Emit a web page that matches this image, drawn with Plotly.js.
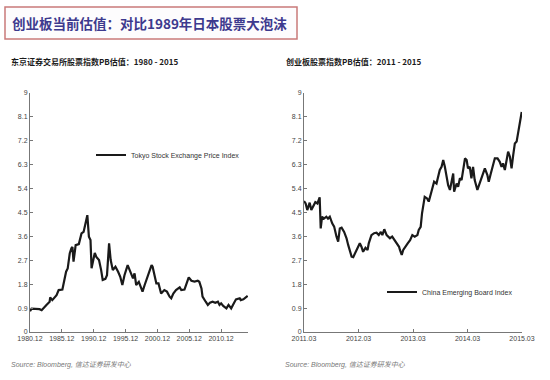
<!DOCTYPE html>
<html>
<head>
<meta charset="utf-8">
<script src="https://cdn.plot.ly/plotly-3.0.1.min.js"></script>
<style>html,body{margin:0;padding:0;background:#fff;}#chart{width:550px;height:380px;}</style>
</head>
<body>
<div id="chart"></div>
<script>
// ---- Data ----
const tokyoDates = ["1980-12","1981-03","1982-06","1982-10","1983-07","1984-01","1984-02","1984-06","1985-02","1985-06","1986-01","1986-05","1986-08","1986-11","1987-03","1987-06","1987-08","1987-10","1988-02","1988-08","1989-01","1989-05","1989-09","1989-12","1990-03","1990-06","1990-08","1990-12","1991-02","1991-05","1991-10","1992-02","1992-05","1992-10","1993-01","1993-05","1993-08","1993-12","1994-05","1994-10","1995-02","1995-06","1995-10","1996-04","1996-09","1997-02","1997-05","1997-08","1998-01","1998-08","1998-12","1999-04","1999-09","2000-01","2000-03","2000-07","2000-10","2001-02","2001-07","2002-01","2002-06","2002-11","2003-02","2003-06","2003-11","2004-06","2004-09","2005-03","2005-07","2005-11","2006-04","2006-10","2007-04","2007-07","2007-11","2008-01","2008-07","2008-11","2009-03","2009-08","2010-01","2010-06","2010-09","2010-12","2011-04","2011-10","2012-02","2012-07","2012-12","2013-04","2013-11","2014-01","2014-06","2014-11","2015-02"];
const tokyoPB = [0.78,0.88,0.86,0.82,1.02,1.14,1.30,1.20,1.39,1.58,1.60,1.96,2.27,2.39,2.97,3.15,3.20,2.65,3.27,3.31,3.71,3.77,4.22,4.40,3.59,3.46,2.40,2.83,2.98,2.83,2.71,2.33,1.96,2.00,2.14,3.34,2.71,2.33,2.46,2.27,2.08,1.77,2.14,2.52,2.27,2.02,2.21,1.77,1.89,1.52,1.77,2.02,2.27,2.52,2.46,2.14,1.83,1.83,1.45,1.58,1.52,1.33,1.27,1.45,1.58,1.68,1.58,1.60,1.83,2.06,1.93,1.90,1.93,1.89,1.64,1.33,1.14,1.02,1.10,1.14,1.10,1.14,1.02,1.08,0.98,0.89,1.02,0.89,1.08,1.23,1.27,1.20,1.23,1.30,1.36];

const chinextDates = ["2011-03-01","2011-03-12","2011-03-23","2011-04-08","2011-04-19","2011-05-07","2011-05-16","2011-05-30","2011-06-14","2011-06-21","2011-06-30","2011-07-13","2011-07-29","2011-08-09","2011-08-21","2011-09-06","2011-09-19","2011-10-05","2011-10-16","2011-10-27","2011-11-08","2011-11-25","2011-12-11","2011-12-22","2012-01-03","2012-01-14","2012-01-25","2012-02-05","2012-02-23","2012-03-09","2012-03-20","2012-03-31","2012-04-16","2012-04-30","2012-05-08","2012-05-26","2012-06-13","2012-06-29","2012-07-14","2012-07-28","2012-08-07","2012-08-20","2012-09-05","2012-09-16","2012-09-27","2012-10-12","2012-10-26","2012-11-11","2012-11-27","2012-12-03","2012-12-15","2012-12-25","2013-01-06","2013-01-24","2013-02-09","2013-02-24","2013-03-12","2013-03-30","2013-04-08","2013-04-21","2013-04-30","2013-05-13","2013-05-18","2013-06-03","2013-06-14","2013-07-02","2013-07-20","2013-08-05","2013-08-16","2013-08-27","2013-09-08","2013-09-19","2013-09-30","2013-10-11","2013-10-22","2013-11-03","2013-11-14","2013-11-25","2013-12-01","2013-12-18","2013-12-28","2014-01-09","2014-01-20","2014-02-01","2014-02-12","2014-02-23","2014-03-04","2014-03-16","2014-03-27","2014-04-07","2014-04-18","2014-05-06","2014-05-22","2014-06-07","2014-06-25","2014-07-12","2014-07-21","2014-08-04","2014-08-19","2014-08-31","2014-09-18","2014-10-03","2014-10-15","2014-10-25","2014-11-06","2014-11-18","2014-11-28","2014-12-10","2014-12-21","2015-01-01","2015-01-12","2015-01-24","2015-02-04","2015-02-15","2015-02-27"];
const chinextPB = [4.93,4.84,4.59,4.87,4.59,4.78,4.89,4.84,5.07,3.90,4.34,4.27,4.34,4.27,4.34,4.09,3.97,3.59,3.40,3.90,3.93,3.77,3.53,3.28,3.02,2.84,2.82,2.96,3.21,3.34,3.21,3.02,3.17,3.09,3.34,3.65,3.72,3.74,3.65,3.77,3.65,3.87,3.65,3.59,3.53,3.59,3.46,3.34,3.21,3.09,2.90,3.09,3.21,3.34,3.46,3.65,3.59,3.65,3.84,3.96,4.47,4.97,5.09,5.03,4.91,5.28,5.66,5.59,5.85,6.10,6.22,6.48,6.22,5.79,5.53,5.35,5.66,5.97,5.28,5.59,5.47,5.79,5.72,6.16,6.54,6.48,6.16,6.22,5.79,6.22,5.72,5.35,5.59,5.85,6.16,5.91,5.66,5.97,6.29,6.54,6.54,6.41,6.22,6.35,6.10,6.48,6.79,6.60,6.16,6.66,7.10,7.17,7.54,7.92,8.29];

const yTicks = [0,0.9,1.8,2.7,3.6,4.5,5.4,6.3,7.2,8.1,9];
const yTickText = ["0","0.9","1.8","2.7","3.6","4.5","5.4","6.3","7.2","8.1","9"];

const mainTitle = "创业板当前估值：对比1989年日本股票大泡沫";
const leftTitle = "东京证券交易所股票指数PB估值：1980 - 2015";
const rightTitle = "创业板股票指数PB估值：2011 - 2015";
const sourceText = "Source: Bloomberg, 信达证券研发中心";
const leftName = "Tokyo Stock Exchange Price Index";
const rightName = "China Emerging Board Index";

// ---- Plot ----
const lineStyle = {color: "#1a1a1a", width: 2.2};
const traces = [
  {x: tokyoDates, y: tokyoPB, type: "scatter", mode: "lines", name: leftName, line: lineStyle, xaxis: "x", yaxis: "y", legend: "legend"},
  {x: chinextDates, y: chinextPB, type: "scatter", mode: "lines", name: rightName, line: lineStyle, xaxis: "x2", yaxis: "y2", legend: "legend2"}
];

const tickFont = {family: "Liberation Sans, Arial, sans-serif", size: 7, color: "#444"};
const axisCommon = {
  showgrid: false, zeroline: false, showline: true, linecolor: "#777", linewidth: 1,
  ticks: "inside", ticklen: 3, tickcolor: "#777", tickfont: tickFont, fixedrange: true
};
const W = 550, H = 380;
const yDom = [(H - 332) / H, (H - 93) / H];

const layout = {
  width: W, height: H,
  margin: {l: 0, r: 0, t: 0, b: 0},
  paper_bgcolor: "#ffffff", plot_bgcolor: "#ffffff",
  showlegend: true,
  xaxis: Object.assign({}, axisCommon, {
    type: "date", domain: [30 / W, 248 / W], range: ["1980-12-01", "2015-02-20"],
    tick0: "1980-12-01", dtick: "M60", tickformat: "%Y.%m", anchor: "y"
  }),
  yaxis: Object.assign({}, axisCommon, {
    domain: yDom, range: [0, 9], tickvals: yTicks, ticktext: yTickText, anchor: "x"
  }),
  xaxis2: Object.assign({}, axisCommon, {
    type: "date", domain: [304 / W, 522 / W], range: ["2011-03-01", "2015-03-01"],
    tick0: "2011-03-01", dtick: "M12", tickformat: "%Y.%m", anchor: "y2"
  }),
  yaxis2: Object.assign({}, axisCommon, {
    domain: yDom, range: [0, 9], tickvals: yTicks, ticktext: yTickText, anchor: "x2"
  }),
  legend: {
    x: 91 / W, y: (H - 155) / H, xanchor: "left", yanchor: "middle",
    bgcolor: "rgba(0,0,0,0)", font: {family: "Liberation Sans, Arial, sans-serif", size: 7, color: "#333"},
    itemwidth: 30
  },
  legend2: {
    x: 382 / W, y: (H - 292) / H, xanchor: "left", yanchor: "middle",
    bgcolor: "rgba(0,0,0,0)", font: {family: "Liberation Sans, Arial, sans-serif", size: 7, color: "#333"},
    itemwidth: 30
  },
  shapes: [
    {type: "rect", xref: "paper", yref: "paper", x0: 5 / W, x1: 297 / W, y0: (H - 39) / H, y1: (H - 7) / H,
     line: {color: "#c97a7a", width: 1.5}, fillcolor: "#fdfcfd", layer: "below"}
  ],
  annotations: [
    {text: "<b>" + mainTitle + "</b>", xref: "paper", yref: "paper", x: 10 / W, y: (H - 23) / H,
     xanchor: "left", yanchor: "middle", showarrow: false,
     font: {family: "Noto Sans CJK SC, sans-serif", size: 13.5, color: "#3d3a8e"}},
    {text: "<b>" + leftTitle + "</b>", xref: "paper", yref: "paper", x: 9 / W, y: (H - 61) / H,
     xanchor: "left", yanchor: "middle", showarrow: false,
     font: {family: "Noto Sans CJK SC, sans-serif", size: 8, color: "#1a1a1a"}},
    {text: "<b>" + rightTitle + "</b>", xref: "paper", yref: "paper", x: 284 / W, y: (H - 61) / H,
     xanchor: "left", yanchor: "middle", showarrow: false,
     font: {family: "Noto Sans CJK SC, sans-serif", size: 8, color: "#1a1a1a"}},
    {text: "<i>" + sourceText + "</i>", xref: "paper", yref: "paper", x: 9 / W, y: (H - 365) / H,
     xanchor: "left", yanchor: "middle", showarrow: false,
     font: {family: "Liberation Sans, Noto Sans CJK SC, sans-serif", size: 7, color: "#777"}},
    {text: "<i>" + sourceText + "</i>", xref: "paper", yref: "paper", x: 283 / W, y: (H - 365) / H,
     xanchor: "left", yanchor: "middle", showarrow: false,
     font: {family: "Liberation Sans, Noto Sans CJK SC, sans-serif", size: 7, color: "#777"}}
  ]
};

Plotly.newPlot("chart", traces, layout, {displayModeBar: false, staticPlot: true});
</script>
</body>
</html>
